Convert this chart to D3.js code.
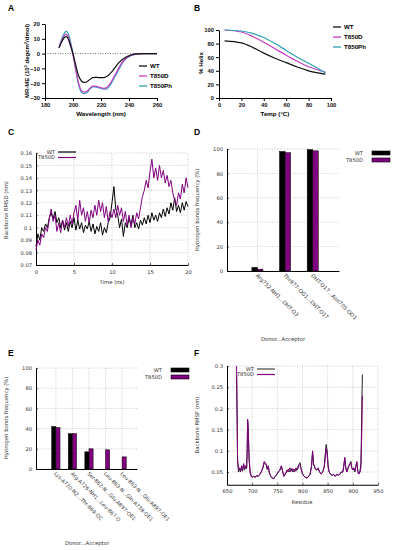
<!DOCTYPE html>
<html>
<head>
<meta charset="utf-8">
<script src="https://cdn.jsdelivr.net/npm/d3@7"></script>
<style>body{margin:0;background:#fff}</style>
</head>
<body>
<div id="container"></div>
<script>
/* DATA */
// A: CD spectra
const wavelength = [190,192,194,195,196,198,200,202,204,206,208,210,212,214,216,218,220,222,224,226,228,230,232,234,236,238,240,242,244,246,250,255,260];
const cdWT    = [4,8,11,11.5,11,6,0,-8,-15,-18.5,-19.5,-19,-17.5,-16.2,-16,-16.2,-16.3,-16.2,-15.5,-14,-12,-9.5,-7,-5,-3.5,-2.3,-1.5,-0.8,-0.4,-0.2,0,0,0];
const cdT850D = [4,9,12.5,13,12.5,7,-1,-11,-20,-25,-26,-25.5,-23.5,-22,-22,-22.5,-23,-23.5,-23,-21,-18,-14.5,-11,-7.5,-5,-3,-1.8,-1,-0.5,-0.2,0,0,0];
const cdT850Ph= [4,10,14,15,14.5,9,0,-11,-21,-26,-27,-26.5,-24,-22.5,-22.5,-23,-23.5,-24,-24,-22,-19,-15.5,-12,-8.5,-5.5,-3.3,-2,-1.1,-0.5,-0.2,0,0,0];

// B: thermal melt
const temp = [5,20,30,40,50,60,70,80,90,95];
const helixWT     = [84,81,74.5,66,58.5,52,45.5,40,36.5,35];
const helixT850D  = [100,97,90.5,82,72.5,63,54,46,40.5,38];
const helixT850Ph = [100,98.5,95,89,80,70,60,51,42,37];

// C: backbone RMSD vs time (ns)
const timeNs = d3.range(0, 20.001, 0.25);
const rmsdWT = [0.085,0.095,0.09,0.1,0.097,0.103,0.1,0.108,0.112,0.107,0.113,0.104,0.108,0.1,0.106,0.098,0.104,0.097,0.105,0.1,
  0.108,0.098,0.106,0.099,0.104,0.096,0.102,0.099,0.105,0.097,0.103,0.095,0.101,0.097,0.104,0.094,0.1,0.096,0.104,0.108,
  0.12,0.133,0.115,0.11,0.1,0.107,0.093,0.104,0.1,0.108,0.102,0.11,0.1,0.104,0.099,0.106,0.102,0.108,0.103,0.11,
  0.104,0.112,0.106,0.11,0.105,0.112,0.108,0.115,0.109,0.116,0.111,0.12,0.114,0.124,0.113,0.118,0.112,0.12,0.114,0.121,0.117];
const rmsdT850D = [0.082,0.09,0.086,0.095,0.092,0.1,0.097,0.107,0.115,0.105,0.11,0.097,0.104,0.096,0.106,0.1,0.108,0.101,0.11,0.103,
  0.112,0.118,0.106,0.122,0.11,0.116,0.105,0.113,0.104,0.114,0.108,0.118,0.11,0.122,0.113,0.12,0.108,0.117,0.105,0.113,
  0.108,0.115,0.108,0.118,0.11,0.116,0.105,0.113,0.102,0.11,0.1,0.108,0.103,0.112,0.107,0.116,0.125,0.13,0.138,0.132,
  0.145,0.155,0.14,0.148,0.138,0.15,0.14,0.146,0.136,0.142,0.133,0.138,0.128,0.122,0.118,0.128,0.123,0.135,0.128,0.14,0.132];

// D: H-bond frequency (ligand)
const hbCatsD = ["Arg752-NH1...DHT-O3","Thr877-OG1...DHT-O17","DHT-O17...Asn705-OD1"];
const hbWT_D    = [3,98,99.5];
const hbT850D_D = [1.5,97,98.5];

// E: H-bond frequency (interface)
const hbCatsE = ["Lys-A720-NZ...Thr-869-OC","Arg-A726-NH1...Leu-867-O","Ser-862-N...Glu-A897-OE1","Leu-863-N...Gln-A738-OE1","Leu-863-N...Glu-A897-OE1"];
const hbWT_E    = [42,35,17,0,0];
const hbT850D_E = [41,35,20,19,12];

// F: backbone RMSF per residue
const residue = [669,670,671,673,675,677,679,681,683,685,
  687,689,690,691,692,694,696,698,700,703,
  706,709,712,715,718,721,724,726,728,730,
  732,734,737,740,743,746,749,752,755,758,
  760,763,766,769,772,775,778,781,784,787,
  790,793,795,797,800,803,806,809,812,815,
  818,820,822,825,828,831,834,837,840,843,
  845,847,849,851,853,856,859,862,865,868,
  871,874,877,880,882,884,886,888,891,894,
  896,898,900,902,904,906,908,910,912,914,
  916,917,918,919];
const rmsfWT = [.28,.18,.075,.05,.058,.05,.062,.052,.068,.055,
  .063,.058,.095,.17,.155,.078,.048,.04,.037,.04,
  .038,.041,.04,.044,.05,.058,.072,.07,.066,.056,
  .063,.048,.04,.035,.034,.04,.044,.05,.054,.063,
  .054,.04,.047,.05,.057,.05,.058,.05,.057,.052,
  .06,.068,.072,.06,.046,.04,.037,.036,.04,.044,
  .063,.098,.068,.058,.054,.058,.05,.046,.05,.062,
  .09,.115,.1,.065,.05,.044,.042,.044,.04,.044,
  .043,.044,.05,.05,.063,.082,.06,.05,.062,.07,
  .075,.06,.055,.058,.05,.063,.072,.05,.046,.05,
  .07,.13,.22,.28];
const rmsfT850D = [.3,.2,.08,.055,.06,.052,.065,.055,.07,.058,
  .065,.06,.1,.175,.16,.08,.05,.042,.038,.04,
  .037,.042,.04,.045,.05,.06,.075,.072,.068,.058,
  .065,.05,.04,.036,.035,.04,.045,.05,.055,.065,
  .055,.04,.045,.055,.05,.06,.052,.058,.05,.06,
  .055,.065,.068,.058,.045,.04,.038,.035,.04,.045,
  .065,.1,.07,.06,.055,.06,.05,.045,.05,.06,
  .08,.105,.09,.06,.05,.045,.042,.045,.04,.045,
  .042,.045,.05,.05,.065,.085,.06,.05,.06,.068,
  .072,.06,.055,.06,.052,.065,.075,.05,.045,.05,
  .06,.1,.16,.23];

/* CONSTANTS AND GLOBALS */
const width = 393, height = 550;
const boldFont = "'Liberation Sans', Arial, sans-serif";
const gpFont = "'DejaVu Sans', sans-serif";
const gpText = "#333";
const purple = "#800080";
const colA = { WT: "#111", T850D: "#c43bc8", T850Ph: "#2f9fb3" };

const svg = d3.select("#container").append("svg")
  .attr("width", width)
  .attr("height", height)
  .style("display", "block")
  .style("background", "#fff");

// panel letters
[["A",8,11],["B",194,11],["C",8,135],["D",194,135],["E",8,356],["F",194,356]].forEach(([t,x,y]) => {
  svg.append("text").attr("x", x).attr("y", y).text(t)
    .attr("font-family", boldFont).attr("font-weight", "bold").attr("font-size", 8.5);
});

/* ---------- GraphPad style panels (A, B) ---------- */
function prismAxes(g, x, y, xTicks, yTicks) {
  const ax = g.append("g").attr("transform", `translate(0,${y.range()[0]})`)
    .call(d3.axisBottom(x).tickValues(xTicks).tickSize(3).tickSizeOuter(0).tickPadding(2));
  const ay = g.append("g").attr("transform", `translate(${x.range()[0]},0)`)
    .call(d3.axisLeft(y).tickValues(yTicks).tickSize(3).tickSizeOuter(0).tickPadding(2));
  [ax, ay].forEach(a => {
    a.selectAll("path,line").attr("stroke", "#000").attr("stroke-width", 1);
    a.selectAll("text").attr("font-family", boldFont).attr("font-weight", "bold")
      .attr("font-size", 5.8).attr("fill", "#111");
  });
}

function prismLegend(g, x, y0, names) {
  names.forEach((n, i) => {
    const yy = y0 + i * 10;
    g.append("line").attr("x1", x).attr("x2", x + 8).attr("y1", yy).attr("y2", yy)
      .attr("stroke", colA[n]).attr("stroke-width", 1.3);
    g.append("text").attr("x", x + 11).attr("y", yy + 2).text(n)
      .attr("font-family", boldFont).attr("font-weight", "bold").attr("font-size", 6.2);
  });
}

// PANEL A
{
  const g = svg.append("g");
  const x = d3.scaleLinear().domain([180, 260]).range([45, 157]);
  const y = d3.scaleLinear().domain([-30, 20]).range([98, 24]);
  g.append("line").attr("x1", x(180)).attr("x2", x(260)).attr("y1", y(0)).attr("y2", y(0))
    .attr("stroke", "#333").attr("stroke-width", 0.7).attr("stroke-dasharray", "1,1.5");
  const line = d3.line().x((d, i) => x(wavelength[i])).y(d => y(d)).curve(d3.curveMonotoneX);
  [["T850Ph", cdT850Ph], ["T850D", cdT850D], ["WT", cdWT]].forEach(([n, v]) => {
    g.append("path").attr("d", line(v)).attr("fill", "none")
      .attr("stroke", colA[n]).attr("stroke-width", 1.2);
  });
  prismAxes(g, x, y, [180, 200, 220, 240, 260], [-30, -20, -10, 0, 10, 20]);
  g.append("text").attr("x", 101).attr("y", 116).attr("text-anchor", "middle")
    .attr("font-family", boldFont).attr("font-weight", "bold").attr("font-size", 6.2)
    .text("Wavelength (nm)");
  const yl = g.append("text").attr("transform", "translate(29,61) rotate(-90)").attr("text-anchor", "middle")
    .attr("font-family", boldFont).attr("font-weight", "bold").attr("font-size", 6);
  yl.append("tspan").text("MR-ME (10");
  yl.append("tspan").attr("font-size", 4).attr("dy", -2.5).text("3");
  yl.append("tspan").attr("dy", 2.5).text(" degcm");
  yl.append("tspan").attr("font-size", 4).attr("dy", -2.5).text("2");
  yl.append("tspan").attr("dy", 2.5).text("/dmol)");
  prismLegend(g, 139, 66, ["WT", "T850D", "T850Ph"]);
}

// PANEL B
{
  const g = svg.append("g");
  const x = d3.scaleLinear().domain([0, 100]).range([219, 331]);
  const y = d3.scaleLinear().domain([0, 100]).range([98, 30]);
  const line = d3.line().x((d, i) => x(temp[i])).y(d => y(d)).curve(d3.curveMonotoneX);
  [["WT", helixWT], ["T850D", helixT850D], ["T850Ph", helixT850Ph]].forEach(([n, v]) => {
    g.append("path").attr("d", line(v)).attr("fill", "none")
      .attr("stroke", colA[n]).attr("stroke-width", 1.2);
  });
  prismAxes(g, x, y, [0, 20, 40, 60, 80, 100], [0, 20, 40, 60, 80, 100]);
  g.append("text").attr("x", 275).attr("y", 116).attr("text-anchor", "middle")
    .attr("font-family", boldFont).attr("font-weight", "bold").attr("font-size", 6.2)
    .text("Temp (°C)");
  g.append("text").attr("transform", "translate(203,63) rotate(-90)").attr("text-anchor", "middle")
    .attr("font-family", boldFont).attr("font-weight", "bold").attr("font-size", 6.2)
    .text("% Helix");
  prismLegend(g, 333, 27, ["WT", "T850D", "T850Ph"]);
}

/* ---------- gnuplot style panels (C-F) ---------- */
function gnuFrame(g, x, y, xTicks, yTicks, xGrid, fmtY) {
  const [x0, x1] = x.range(), [y0, y1] = y.range();
  g.selectAll("line.hgrid").data(yTicks).join("line").attr("class", "hgrid")
    .attr("x1", x0).attr("x2", x1).attr("y1", d => y(d)).attr("y2", d => y(d))
    .attr("stroke", "#aaa").attr("stroke-width", 0.6).attr("stroke-dasharray", "1,1.5");
  g.selectAll("line.vgrid").data(xGrid).join("line").attr("class", "vgrid")
    .attr("x1", d => x(d)).attr("x2", d => x(d)).attr("y1", y0).attr("y2", y1)
    .attr("stroke", "#aaa").attr("stroke-width", 0.6).attr("stroke-dasharray", "1,1.5");
  const ay = g.append("g").attr("transform", `translate(${x0},0)`)
    .call(d3.axisLeft(y).tickValues(yTicks).tickSize(-2).tickSizeOuter(0).tickPadding(4).tickFormat(fmtY));
  const ax = g.append("g").attr("transform", `translate(0,${y0})`)
    .call(d3.axisBottom(x).tickValues(xTicks).tickSize(xTicks.length ? -2 : 0).tickSizeOuter(0).tickPadding(5));
  [ax, ay].forEach(a => {
    a.select("path.domain").attr("stroke", "#000").attr("stroke-width", 1);
    a.selectAll(".tick line").attr("stroke", "#000").attr("stroke-width", 0.6);
    a.selectAll("text").attr("font-family", gpFont).attr("font-size", 5.2).attr("fill", gpText);
  });
}

function gnuLabel(g, x, y, text, rotate) {
  g.append("text").attr("transform", `translate(${x},${y})` + (rotate ? " rotate(-90)" : ""))
    .attr("text-anchor", "middle").attr("font-family", gpFont).attr("font-size", 5.3)
    .attr("fill", gpText).text(text);
}

function lineLegend(g, xr, y0, names, colors) {
  names.forEach((n, i) => {
    const yy = y0 + i * 5.5;
    g.append("text").attr("x", xr).attr("y", yy + 1.8).attr("text-anchor", "end")
      .attr("font-family", gpFont).attr("font-size", 5.2).attr("fill", gpText).text(n);
    g.append("line").attr("x1", xr + 3).attr("x2", xr + 21).attr("y1", yy).attr("y2", yy)
      .attr("stroke", colors[i]).attr("stroke-width", 1.2);
  });
}

function boxLegend(g, xr, y0, names, colors) {
  names.forEach((n, i) => {
    const yy = y0 + i * 7;
    g.append("text").attr("x", xr).attr("y", yy + 1.8).attr("text-anchor", "end")
      .attr("font-family", gpFont).attr("font-size", 5.2).attr("fill", gpText).text(n);
    g.append("rect").attr("x", xr + 9).attr("y", yy - 2).attr("width", 18).attr("height", 4)
      .attr("fill", colors[i]).attr("stroke", "#000").attr("stroke-width", 0.6);
  });
}

// PANEL C
{
  const g = svg.append("g");
  const x = d3.scaleLinear().domain([0, 20]).range([36, 188]);
  const y = d3.scaleLinear().domain([0.07, 0.16]).range([265, 153]);
  const yt = d3.range(0.07, 0.1651, 0.01).map(v => +v.toFixed(2));
  gnuFrame(g, x, y, [0, 5, 10, 15, 20], yt, [5, 10, 15, 20], d => String(d));
  const line = d3.line().x((d, i) => x(timeNs[i])).y(d => y(d));
  g.append("path").attr("d", line(rmsdWT)).attr("fill", "none").attr("stroke", "#000").attr("stroke-width", 1);
  g.append("path").attr("d", line(rmsdT850D)).attr("fill", "none").attr("stroke", purple).attr("stroke-width", 1);
  gnuLabel(g, 112, 284, "Time (ns)");
  gnuLabel(g, 8, 210, "Backbone RMSD (nm)", true);
  lineLegend(g, 55, 152, ["WT", "T850D"], ["#000", purple]);
}

// grouped bar helper
function hbPanel(g, x, y, cats, wt, mut, bw, labelFont) {
  const idx = cats.map((c, i) => i);
  gnuFrame(g, x, y, [], [0, 20, 40, 60, 80, 100], idx, d => d);
  const y0 = y.range()[0];
  [[wt, "#000", -bw], [mut, purple, 0]].forEach(([vals, col, off]) => {
    g.selectAll(null).data(vals).join("rect")
      .attr("x", (d, i) => x(i + off))
      .attr("y", d => y(d))
      .attr("width", x(bw) - x(0))
      .attr("height", d => y0 - y(d))
      .attr("fill", col).attr("stroke", d => d > 0 ? "#000" : "none").attr("stroke-width", 0.5);
  });
  g.selectAll(null).data(cats).join("text")
    .attr("transform", (d, i) => `translate(${x(i) - 2},${y0 + 5}) rotate(45)`)
    .attr("font-family", gpFont).attr("font-size", labelFont).attr("fill", gpText)
    .text(d => d);
}

// PANEL D
{
  const g = svg.append("g");
  const x = d3.scaleLinear().domain([-1.1, 2.95]).range([227, 339]);
  const y = d3.scaleLinear().domain([0, 100]).range([271, 149]);
  hbPanel(g, x, y, hbCatsD, hbWT_D, hbT850D_D, 0.2, 5.3);
  gnuLabel(g, 283, 341, "Donor...Acceptor");
  gnuLabel(g, 199, 210, "Hydrogen bonds frequency (%)", true);
  boxLegend(g, 363, 153, ["WT", "T850D"], ["#000", purple]);
}

// PANEL E
{
  const g = svg.append("g");
  const x = d3.scaleLinear().domain([-1.2, 4.9]).range([36, 137]);
  const y = d3.scaleLinear().domain([0, 100]).range([469, 368]);
  hbPanel(g, x, y, hbCatsE, hbWT_E, hbT850D_E, 0.25, 5.1);
  gnuLabel(g, 87, 545, "Donor...Acceptor");
  gnuLabel(g, 8, 418, "Hydrogen bonds frequency (%)", true);
  boxLegend(g, 162, 370, ["WT", "T850D"], ["#000", purple]);
}

// PANEL F
{
  const g = svg.append("g");
  const x = d3.scaleLinear().domain([650, 950]).range([227, 378]);
  const y = d3.scaleLinear().domain([0.02, 0.3]).range([484.75, 366]);
  gnuFrame(g, x, y, d3.range(650, 951, 50), [0.05, 0.1, 0.15, 0.2, 0.25, 0.3], d3.range(700, 951, 50), d => String(d));
  const line = d3.line().x((d, i) => x(residue[i])).y(d => y(d));
  g.append("path").attr("d", line(rmsfWT)).attr("fill", "none").attr("stroke", "#222").attr("stroke-width", 1);
  g.append("path").attr("d", line(rmsfT850D)).attr("fill", "none").attr("stroke", purple).attr("stroke-width", 1);
  gnuLabel(g, 302, 504, "Residue");
  gnuLabel(g, 199, 425, "Backbone RMSF (nm)", true);
  lineLegend(g, 254, 369, ["WT", "T850D"], ["#444", purple]);
}
</script>
</body>
</html>
